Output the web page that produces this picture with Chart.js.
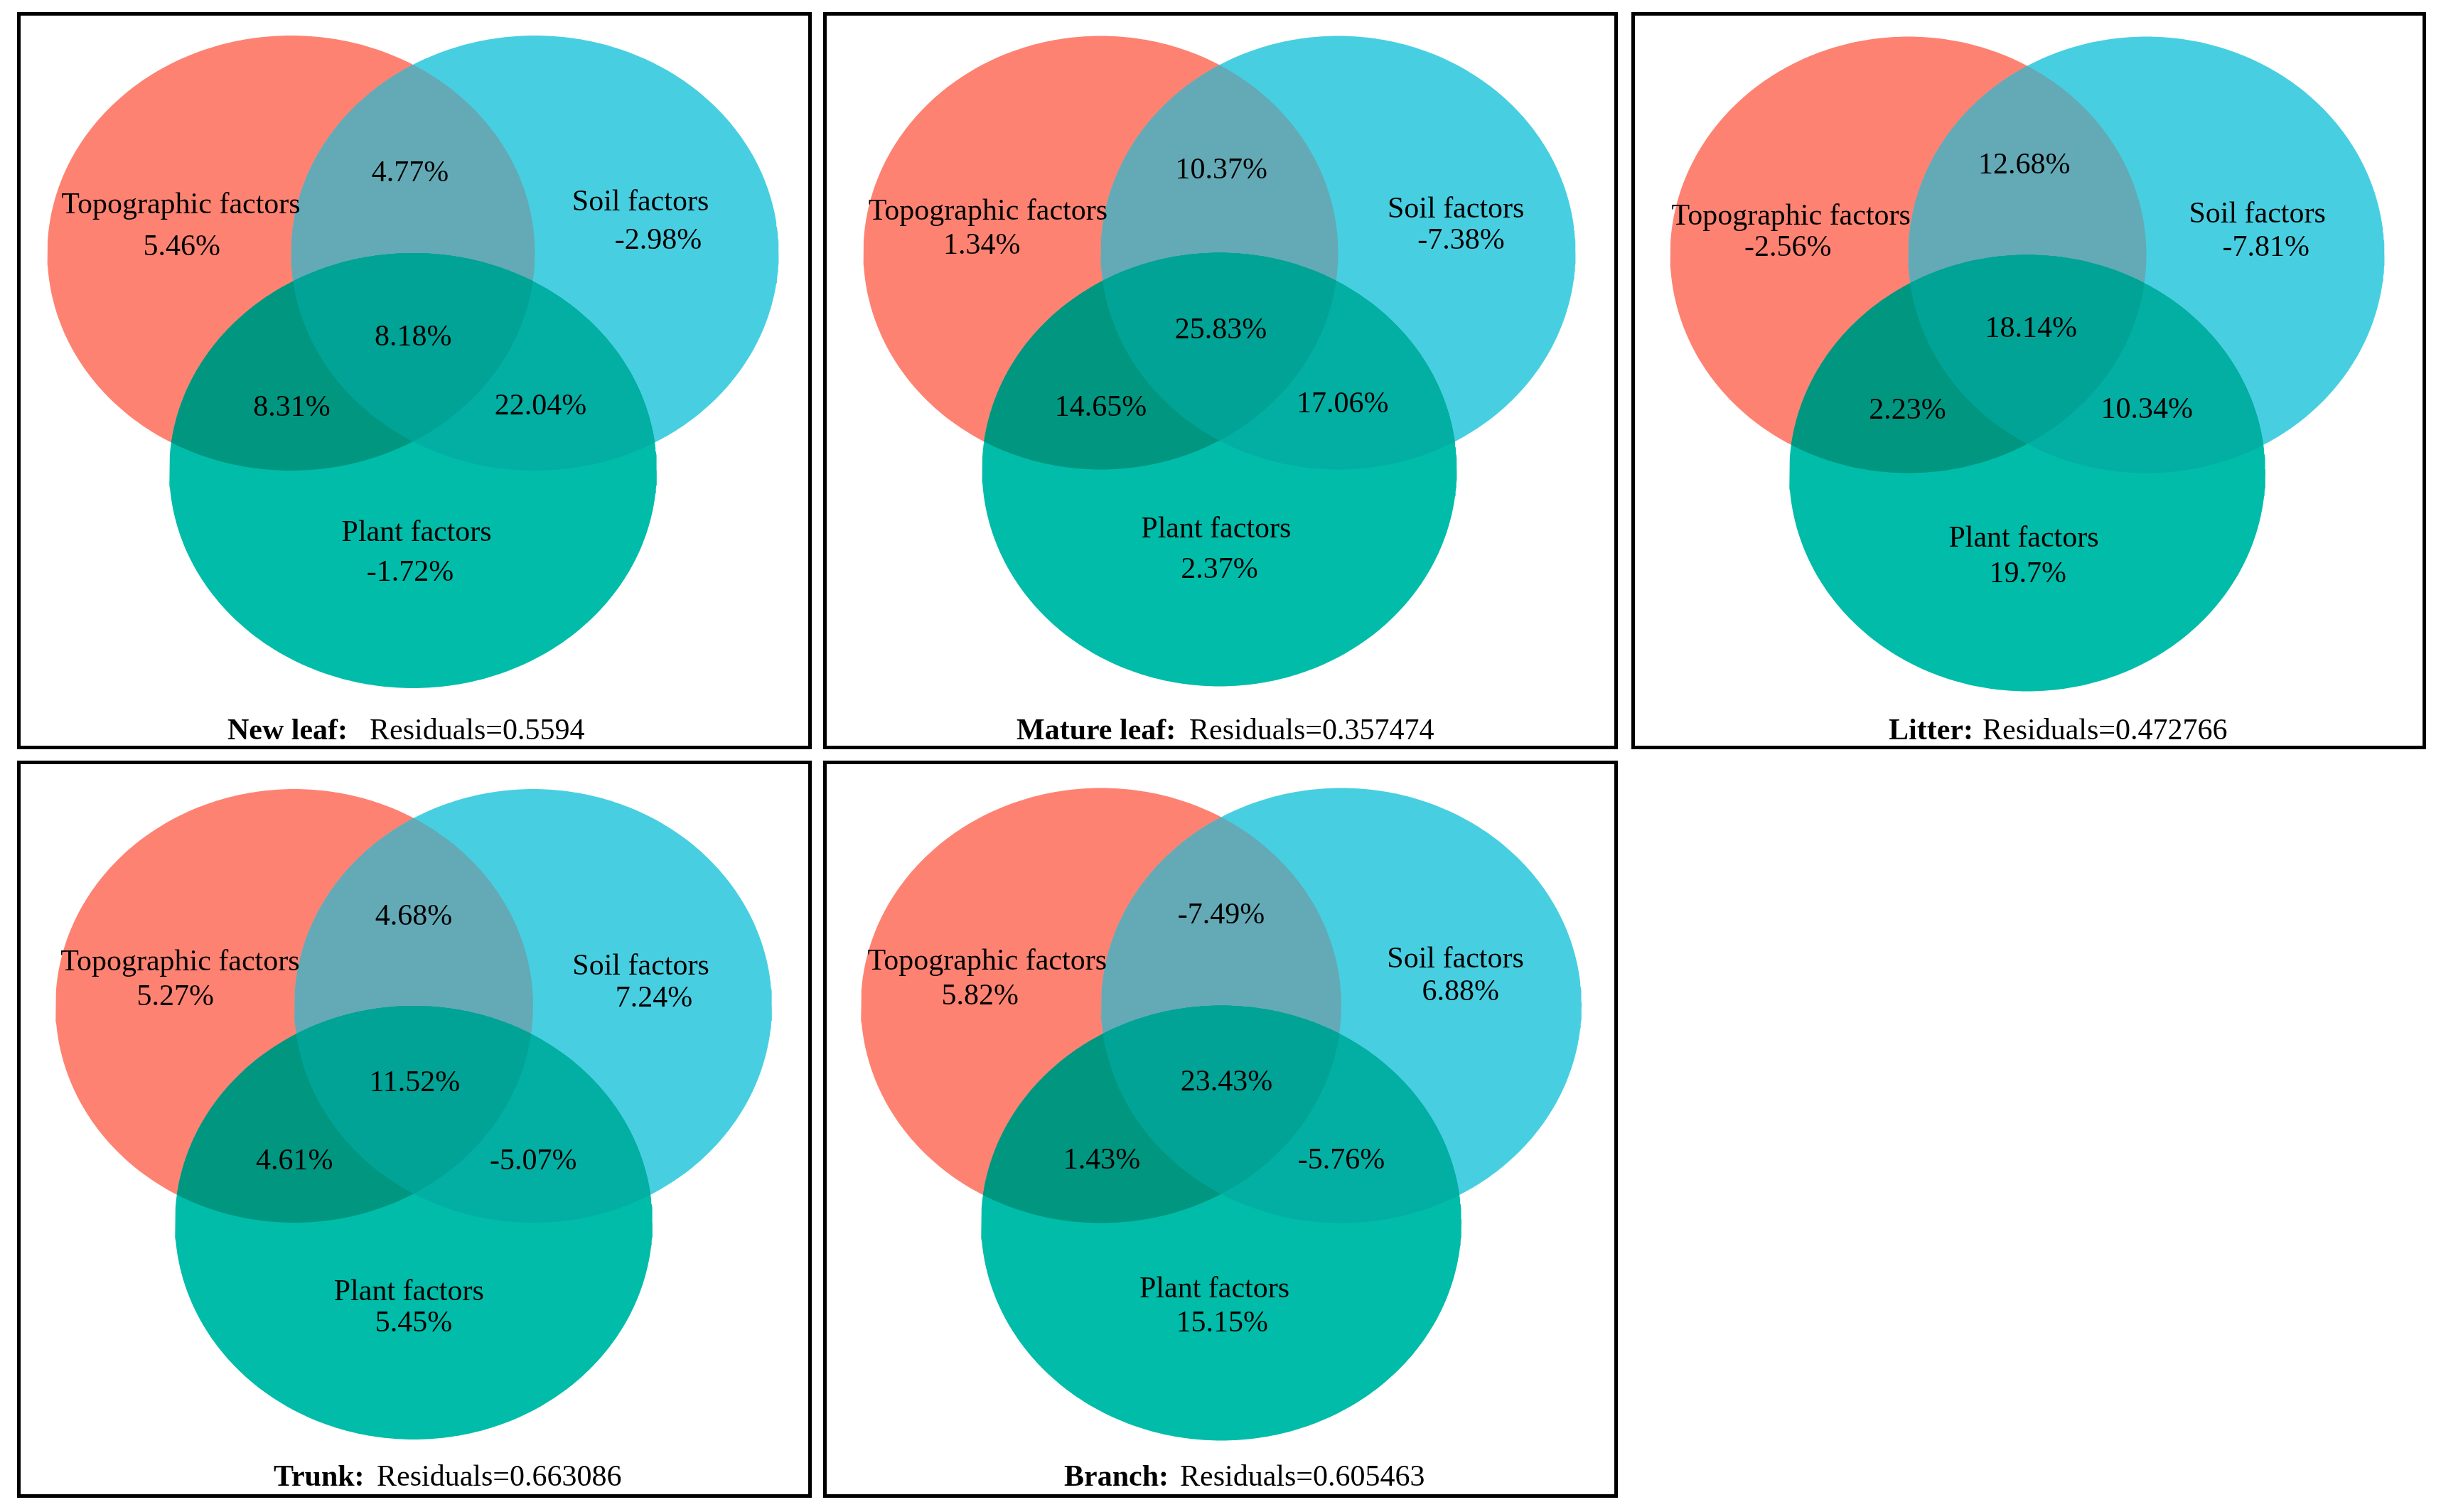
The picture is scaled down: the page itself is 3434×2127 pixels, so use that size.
<!DOCTYPE html>
<html><head><meta charset="utf-8">
<script src="https://cdn.jsdelivr.net/npm/chart.js@4.4.1/dist/chart.umd.min.js"></script>
<style>
html,body{margin:0;padding:0;background:#fff;width:3434px;height:2127px;overflow:hidden;}
.panel{position:absolute;width:1118px;height:1037px;}
.panel canvas{position:absolute;left:0;top:0;}
.frame{position:absolute;left:0;top:0;width:1118px;height:1037px;box-sizing:border-box;border:5px solid #000;pointer-events:none;}
</style></head><body>
<script>
// ---------------- data ----------------
const panelNames = ['New leaf', 'Mature leaf', 'Litter', 'Trunk', 'Branch'];
const panelColons = [':', ':', ':', ':', ':'];
const residuals = ['0.5594', '0.357474', '0.472766', '0.663086', '0.605463'];
const setNames = ['Topographic factors', 'Soil factors', 'Plant factors'];
const topoOnly  = [5.46, 1.34, -2.56, 5.27, 5.82];
const soilOnly  = [-2.98, -7.38, -7.81, 7.24, 6.88];
const plantOnly = [-1.72, 2.37, 19.7, 5.45, 15.15];
const topoSoil  = [4.77, 10.37, 12.68, 4.68, -7.49];
const topoPlant = [8.31, 14.65, 2.23, 4.61, 1.43];
const soilPlant = [22.04, 17.06, 10.34, -5.07, -5.76];
const allThree  = [8.18, 25.83, 18.14, 11.52, 23.43];

// ---------------- layout ----------------
const PW = 1118, PH = 1037;
const panelLeft = [24, 1158, 2295, 24, 1158];
const panelTop  = [17, 17, 17, 1070, 1070];
const vennMid = [[557, 492], [557.5, 491], [557, 495], [558, 497.5], [560, 497.5]];
const vennRadius = [[343, 306], [334, 305], [335, 307], [336, 305], [338, 306]];
const setCenters = [[-0.5, 0.5], [0.5, 0.5], [0, -0.5]];
// label anchors in venn units: topoName, topoVal, soilName, soilVal, plantName, plantVal, TS, TP, SP, all
const labelPos = [
  [[-0.952,0.682],[-0.948,0.49],[0.933,0.697],[1.006,0.52],[0.015,-0.822],[-0.012,-1.008],[-0.012,0.831],[-0.497,-0.248],[0.523,-0.241],[0.001,0.075]],
  [[-0.975,0.652],[-1.001,0.495],[0.996,0.663],[1.018,0.518],[-0.014,-0.814],[0,-0.999],[0.008,0.841],[-0.5,-0.252],[0.519,-0.236],[0.006,0.105]],
  [[-0.992,0.639],[-1.005,0.494],[0.966,0.648],[1.002,0.494],[-0.015,-0.837],[0.002,-1.0],[-0.0125,0.873],[-0.503,-0.251],[0.502,-0.247],[0.016,0.125]],
  [[-0.978,0.665],[-0.998,0.502],[0.951,0.643],[1.006,0.497],[-0.02,-0.857],[0,-1.003],[0,0.873],[-0.499,-0.253],[0.501,-0.253],[0.004,0.105]],
  [[-0.974,0.664],[-1.004,0.504],[0.975,0.675],[0.996,0.526],[-0.028,-0.843],[0.004,-0.999],[0,0.876],[-0.497,-0.251],[0.5,-0.251],[0.022,0.11]]
];
const captionX = [[296, 496], [272, 515], [362, 494], [361, 506], [339, 502]];
const captionY = [1023, 1023, 1023, 1020, 1020];

const regionColors = {
  topo: '#FE8272', soil: '#47CFE1', topoSoil: '#63AAB6',
  plant: '#00BCA9', topoPlant: '#009680', soilPlant: '#03AEA3', all: '#00A395'
};
// draw order: each entry = which set's ellipse, its fill, and which sets clip it
const drawPlan = [
  {set: 0, color: regionColors.topo, clip: []},
  {set: 1, color: regionColors.soil, clip: []},
  {set: 1, color: regionColors.topoSoil, clip: [0]},
  {set: 2, color: regionColors.plant, clip: []},
  {set: 2, color: regionColors.topoPlant, clip: [0]},
  {set: 2, color: regionColors.soilPlant, clip: [1]},
  {set: 2, color: regionColors.all, clip: [0, 1]}
];
const baseIndex = [0, 1, 3];
const FONT = '"Liberation Serif", "Times New Roman", serif';

const RING_STEPS = 360;
function ring(c) {
  const pts = [];
  for (let i = 0; i <= RING_STEPS; i++) {
    const t = 2 * Math.PI * i / RING_STEPS;
    pts.push({x: c[0] + Math.cos(t), y: c[1] + Math.sin(t)});
  }
  return pts;
}

function prepareClip(chart, k) {
  if (k >= drawPlan.length) return;
  const clips = drawPlan[k].clip;
  if (!clips.length) return;
  const ctx = chart.ctx;
  ctx.save();
  chart.$clipSaved = true;
  for (const s of clips) {
    const pts = chart.getDatasetMeta(baseIndex[s]).data;
    ctx.beginPath();
    pts.forEach((p, i) => i ? ctx.lineTo(p.x, p.y) : ctx.moveTo(p.x, p.y));
    ctx.closePath();
    ctx.clip();
  }
}

const clipPlugin = {
  id: 'regionClip',
  beforeDatasetsDraw(chart) { chart.$clipSaved = false; prepareClip(chart, 0); },
  afterDatasetDraw(chart, args) {
    if (chart.$clipSaved) { chart.ctx.restore(); chart.$clipSaved = false; }
    prepareClip(chart, args.index + 1);
  }
};

function makeLabelPlugin(p) {
  return {
    id: 'vennLabels',
    afterDatasetsDraw(chart) {
      const ctx = chart.ctx;
      const xs = chart.scales.x, ys = chart.scales.y;
      const texts = [
        setNames[0], topoOnly[p] + '%', setNames[1], soilOnly[p] + '%', setNames[2], plantOnly[p] + '%',
        topoSoil[p] + '%', topoPlant[p] + '%', soilPlant[p] + '%', allThree[p] + '%'
      ];
      ctx.save();
      ctx.fillStyle = '#000';
      ctx.font = '42px ' + FONT;
      ctx.textAlign = 'center';
      ctx.textBaseline = 'alphabetic';
      texts.forEach((t, i) => {
        const pos = labelPos[p][i];
        ctx.fillText(t, xs.getPixelForValue(pos[0]), ys.getPixelForValue(pos[1]));
      });
      const a = chart.chartArea;
      ctx.textAlign = 'left';
      ctx.font = 'bold 42px ' + FONT;
      ctx.fillText(panelNames[p] + panelColons[p], a.left + captionX[p][0], a.top + captionY[p]);
      ctx.font = '42px ' + FONT;
      ctx.fillText('Residuals=' + residuals[p], a.left + captionX[p][1], a.top + captionY[p]);
      ctx.restore();
    }
  };
}

for (let p = 0; p < panelNames.length; p++) {
  const div = document.createElement('div');
  div.className = 'panel';
  div.style.left = panelLeft[p] + 'px';
  div.style.top = panelTop[p] + 'px';
  const cv = document.createElement('canvas');
  cv.width = PW; cv.height = PH;
  cv.style.width = PW + 'px'; cv.style.height = PH + 'px';
  div.appendChild(cv);
  const frame = document.createElement('div');
  frame.className = 'frame';
  div.appendChild(frame);
  document.body.appendChild(div);

  const [mx, my] = vennMid[p];
  const [rx, ry] = vennRadius[p];
  const datasets = drawPlan.map((d, k) => ({
    data: ring(setCenters[d.set]),
    showLine: true,
    fill: 'shape',
    backgroundColor: d.color,
    borderColor: 'rgba(0,0,0,0)',
    borderWidth: 0,
    pointRadius: 0,
    pointHoverRadius: 0,
    tension: 0,
    clip: false,
    order: drawPlan.length - k
  }));

  new Chart(cv, {
    type: 'scatter',
    data: {datasets},
    options: {
      responsive: false,
      animation: false,
      events: [],
      layout: {padding: 0},
      plugins: {legend: {display: false}, tooltip: {enabled: false}, title: {display: false}},
      scales: {
        x: {type: 'linear', display: false, min: -mx / rx, max: (PW - mx) / rx},
        y: {type: 'linear', display: false, min: -(PH - my) / ry, max: my / ry}
      }
    },
    plugins: [clipPlugin, makeLabelPlugin(p)]
  });
}
</script>
</body></html>
